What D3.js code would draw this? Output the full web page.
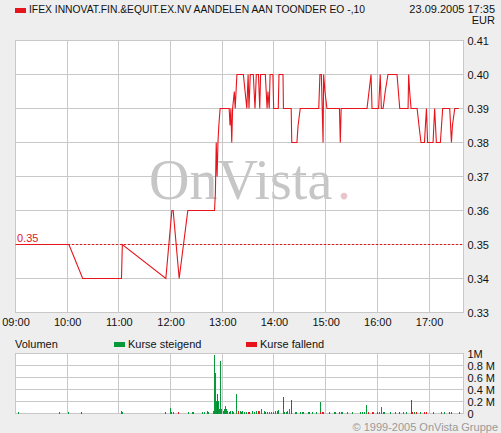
<!DOCTYPE html>
<html>
<head>
<meta charset="utf-8">
<script src="https://cdn.jsdelivr.net/npm/d3@7"></script>
<style>
  body { margin: 0; background: #eeeeee; }
  svg { display: block; font-family: "Liberation Sans", Arial, sans-serif; font-size: 11px; }
</style>
</head>
<body>
<div id="chart"></div>
<script>
// DATA ///////////////////////////////////////////////////////////////////////
const title = "IFEX INNOVAT.FIN.&EQUIT.EX.NV AANDELEN AAN TOONDER EO -,10";
const stamp = "23.09.2005 17:35";
const currency = "EUR";
const refPrice = 0.35;

const priceTicks = [0.33, 0.34, 0.35, 0.36, 0.37, 0.38, 0.39, 0.40, 0.41];
const volumeTicks = [0, 200000, 400000, 600000, 800000, 1000000];

// intraday price ticks
const priceTimes = [
  "09:00:00", "10:02:00", "10:18:00", "11:03:00", "11:04:00", "11:54:30", "12:01:30", "12:03:00", "12:10:00", "12:20:00",
  "12:51:00", "12:52:00", "12:53:00", "12:54:00", "12:55:00", "12:56:00", "12:57:30", "13:08:00", "13:09:00", "13:10:00",
  "13:11:00", "13:12:00", "13:14:00", "13:15:00", "13:17:00", "13:24:30", "13:26:30", "13:28:30", "13:30:00", "13:31:00",
  "13:32:30", "13:36:00", "13:37:00", "13:38:00", "13:39:30", "13:42:00", "13:43:30", "13:44:30", "13:50:00", "13:51:00",
  "13:52:00", "13:53:00", "13:54:30", "13:55:30", "13:58:45", "13:59:40", "14:05:00", "14:05:50", "14:10:30", "14:11:00",
  "14:20:00", "14:20:40", "14:26:40", "14:28:00", "14:30:30", "14:52:00", "14:52:40", "14:53:20", "14:55:00", "14:56:00",
  "14:57:00", "14:57:40", "14:59:10", "15:01:30", "15:16:00", "15:17:00", "15:18:00", "15:48:00", "15:50:20", "15:52:40",
  "15:53:50", "16:01:30", "16:03:20", "16:04:40", "16:06:40", "16:09:10", "16:12:20", "16:22:50", "16:26:00", "16:35:40",
  "16:36:20", "16:37:30", "16:39:10", "16:46:10", "16:48:20", "16:50:40", "16:54:40", "16:57:00", "16:58:20", "17:04:40",
  "17:06:30", "17:08:30", "17:13:10", "17:15:50", "17:24:00", "17:26:00", "17:27:10", "17:29:50", "17:34:30"
];
const priceValues = [
  0.35, 0.35, 0.34, 0.34, 0.35, 0.34, 0.36, 0.36, 0.34, 0.36,
  0.36, 0.365, 0.38, 0.37, 0.38, 0.385, 0.39, 0.39, 0.385, 0.39,
  0.38, 0.39, 0.395, 0.39, 0.40, 0.40, 0.395, 0.39, 0.40, 0.39,
  0.40, 0.40, 0.395, 0.39, 0.40, 0.40, 0.39, 0.40, 0.40, 0.395,
  0.39, 0.395, 0.39, 0.40, 0.40, 0.39, 0.39, 0.40, 0.40, 0.39,
  0.39, 0.38, 0.38, 0.385, 0.39, 0.39, 0.395, 0.40, 0.40, 0.39,
  0.38, 0.40, 0.395, 0.39, 0.39, 0.38, 0.39, 0.39, 0.395, 0.40,
  0.39, 0.39, 0.40, 0.39, 0.39, 0.395, 0.40, 0.40, 0.39, 0.39,
  0.40, 0.395, 0.39, 0.39, 0.385, 0.38, 0.38, 0.39, 0.38, 0.38,
  0.39, 0.38, 0.38, 0.39, 0.39, 0.38, 0.385, 0.39, 0.39
];

// traded volume per tick, 1 = kurse steigend, 0 = kurse fallend
const volTimes = [
  "09:03", "09:50", "10:01", "10:16", "11:03", "11:04", "11:54", "11:59", "12:00", "12:01",
  "12:03", "12:09", "12:20", "12:25", "12:26", "12:37", "12:39", "12:42", "12:44", "12:49",
  "12:50", "12:52", "12:53", "12:54", "12:55", "12:56", "12:57", "12:59", "13:01", "13:02",
  "13:03", "13:04", "13:06", "13:08", "13:09", "13:11", "13:13", "13:16", "13:18", "13:20",
  "13:22", "13:23", "13:25", "13:27", "13:30", "13:31", "13:34", "13:35", "13:37", "13:39",
  "13:41", "13:43", "13:45", "13:48", "13:50", "13:52", "13:54", "13:57", "13:59", "14:01",
  "14:03", "14:04", "14:05", "14:10", "14:11", "14:12", "14:14", "14:15", "14:17", "14:20",
  "14:24", "14:25", "14:30", "14:32", "14:34", "14:40", "14:41", "14:44", "14:49", "14:53",
  "14:54", "14:56", "14:57", "15:04", "15:10", "15:11", "15:16", "15:18", "15:19", "15:25",
  "15:30", "15:40", "15:42", "15:45", "15:47", "15:49", "15:54", "15:55", "16:00", "16:02",
  "16:04", "16:06", "16:08", "16:15", "16:21", "16:25", "16:30", "16:33", "16:39", "16:40",
  "16:43", "16:45", "16:50", "16:54", "16:56", "16:57", "17:05", "17:14", "17:17", "17:23",
  "17:26", "17:35"
];
const volShares = [
  30000, 30000, 30000, 30000, 35000, 20000, 25000, 100000, 30000, 25000,
  25000, 25000, 20000, 25000, 25000, 25000, 30000, 35000, 20000, 40000,
  970000, 680000, 210000, 320000, 210000, 70000, 870000, 80000, 50000, 70000,
  120000, 80000, 50000, 30000, 40000, 50000, 30000, 330000, 50000, 40000,
  20000, 50000, 20000, 20000, 30000, 30000, 50000, 20000, 30000, 40000,
  50000, 40000, 70000, 50000, 30000, 20000, 30000, 30000, 30000, 50000,
  30000, 50000, 60000, 270000, 70000, 20000, 30000, 50000, 70000, 230000,
  30000, 20000, 25000, 30000, 30000, 25000, 20000, 25000, 20000, 200000,
  25000, 25000, 25000, 20000, 20000, 25000, 20000, 20000, 25000, 20000,
  20000, 25000, 25000, 20000, 150000, 25000, 20000, 20000, 20000, 25000,
  110000, 20000, 20000, 20000, 20000, 25000, 20000, 25000, 220000, 20000,
  25000, 20000, 20000, 25000, 25000, 20000, 20000, 25000, 20000, 25000,
  20000, 20000
];
const volRising = [
  1, 1, 1, 0, 1, 1, 0, 1, 1, 1,
  1, 0, 1, 1, 1, 1, 1, 1, 1, 1,
  1, 1, 1, 0, 1, 1, 1, 1, 1, 1,
  1, 1, 1, 0, 1, 1, 1, 1, 0, 1,
  1, 1, 1, 1, 0, 0, 1, 1, 1, 1,
  0, 1, 1, 1, 0, 1, 1, 1, 1, 1,
  1, 1, 1, 0, 1, 1, 1, 1, 1, 0,
  1, 1, 1, 1, 1, 1, 1, 1, 1, 1,
  0, 0, 0, 1, 1, 1, 0, 1, 1, 1,
  1, 1, 1, 1, 1, 0, 0, 1, 0, 1,
  1, 1, 1, 1, 1, 0, 1, 1, 0, 0,
  1, 0, 1, 0, 0, 0, 1, 1, 1, 0,
  1, 1
];

// LAYOUT /////////////////////////////////////////////////////////////////////
const W = 501, H = 433;
const red = "#e8141b", green = "#07983a", gridColor = "#c8c8c8";

const parseT = d3.timeParse("%H:%M:%S");
const parseM = d3.timeParse("%H:%M");

const prices = priceTimes.map((t, i) => ({ t: parseT(t), v: priceValues[i] }));
const volumes = volTimes.map((t, i) => ({ t: parseM(t), v: volShares[i], up: volRising[i] === 1 }));

const x = d3.scaleTime()
  .domain([parseM("09:00"), parseM("17:40")])
  .range([15.5, 463.5]);
const y = d3.scaleLinear().domain([0.33, 0.41]).range([312.5, 40.5]);
const yv = d3.scaleLinear().domain([0, 1000000]).range([413.5, 353.5]);

const hours = d3.timeHour.range(parseM("09:00"), parseM("17:01"));

const svg = d3.select("#chart").append("svg")
  .attr("width", W)
  .attr("height", H);

svg.append("rect").attr("width", W).attr("height", H).attr("fill", "#eeeeee");

// header
svg.append("rect").attr("x", 15).attr("y", 8).attr("width", 11).attr("height", 5).attr("fill", red);
svg.append("text").attr("x", 29).attr("y", 13)
  .attr("textLength", 336).attr("lengthAdjust", "spacingAndGlyphs")
  .attr("fill", "#111").text(title);
svg.append("text").attr("x", 495).attr("y", 13).attr("text-anchor", "end").attr("fill", "#111").text(stamp);
svg.append("text").attr("x", 495).attr("y", 23.5).attr("text-anchor", "end").attr("fill", "#111").text(currency);

// PRICE PANEL ////////////////////////////////////////////////////////////////
const [px0, px1] = x.range();
const [py1, py0] = y.range();

svg.append("rect")
  .attr("x", px0).attr("y", py0)
  .attr("width", px1 - px0).attr("height", py1 - py0)
  .attr("fill", "#fff");

// watermark
const wm = svg.append("g")
  .attr("font-family", "'Liberation Serif', 'Times New Roman', serif")
  .attr("font-size", 56);
wm.append("text")
  .attr("x", 149).attr("y", 199)
  .attr("fill", "#c6c6c6")
  .text("OnVista");
wm.append("text")
  .attr("x", 337).attr("y", 199)
  .attr("fill", "#e9c4cc")
  .text(".");

const grid = svg.append("g")
  .attr("stroke", gridColor)
  .attr("shape-rendering", "crispEdges");

grid.selectAll(".vx").data(hours).enter().append("line")
  .attr("x1", d => x(d)).attr("x2", d => x(d))
  .attr("y1", py0).attr("y2", py1);
grid.selectAll(".hy").data(priceTicks).enter().append("line")
  .attr("x1", px0).attr("x2", px1)
  .attr("y1", d => y(d)).attr("y2", d => y(d));
grid.append("rect")
  .attr("x", px0).attr("y", py0)
  .attr("width", px1 - px0).attr("height", py1 - py0)
  .attr("fill", "none");

// reference line (previous close)
svg.append("line")
  .attr("x1", px0).attr("x2", px1)
  .attr("y1", y(refPrice)).attr("y2", y(refPrice))
  .attr("stroke", red)
  .attr("stroke-dasharray", "2,2")
  .attr("shape-rendering", "crispEdges");
svg.append("text")
  .attr("x", 17).attr("y", y(refPrice) - 3)
  .attr("fill", red)
  .text(d3.format(".2f")(refPrice));

// price line
const line = d3.line()
  .x(d => x(d.t))
  .y(d => y(d.v));

svg.append("path")
  .datum(prices)
  .attr("d", line)
  .attr("fill", "none")
  .attr("stroke", red)
  .attr("stroke-width", 1.1);

// axes
const xAxis = svg.append("g")
  .attr("transform", `translate(0,${py1})`)
  .call(d3.axisBottom(x).tickValues(hours).tickFormat(d3.timeFormat("%H:%M")).tickSize(0).tickPadding(6));

const yAxis = svg.append("g")
  .attr("transform", `translate(${px1},0)`)
  .call(d3.axisRight(y).tickValues(priceTicks).tickFormat(d3.format(".2f")).tickSize(0).tickPadding(4));

[xAxis, yAxis].forEach(a => {
  a.select(".domain").remove();
  a.selectAll("text").attr("fill", "#111").style("font-size", "11px").style("font-family", "'Liberation Sans', Arial, sans-serif");
});

// VOLUME PANEL ///////////////////////////////////////////////////////////////
svg.append("text").attr("x", 15).attr("y", 347.5).attr("fill", "#111").text("Volumen");
svg.append("rect").attr("x", 114).attr("y", 342).attr("width", 11).attr("height", 5).attr("fill", green);
svg.append("text").attr("x", 128).attr("y", 347.5).attr("fill", "#111").text("Kurse steigend");
svg.append("rect").attr("x", 246).attr("y", 342).attr("width", 11).attr("height", 5).attr("fill", red);
svg.append("text").attr("x", 260).attr("y", 347.5).attr("fill", "#111").text("Kurse fallend");

const [vy1, vy0] = yv.range();

svg.append("rect")
  .attr("x", px0).attr("y", vy0)
  .attr("width", px1 - px0).attr("height", vy1 - vy0)
  .attr("fill", "#fff");

const vgrid = svg.append("g")
  .attr("stroke", gridColor)
  .attr("shape-rendering", "crispEdges");
vgrid.selectAll(".vx").data(hours).enter().append("line")
  .attr("x1", d => x(d)).attr("x2", d => x(d))
  .attr("y1", vy0).attr("y2", vy1);
vgrid.selectAll(".hy").data(volumeTicks).enter().append("line")
  .attr("x1", px0).attr("x2", px1)
  .attr("y1", d => yv(d)).attr("y2", d => yv(d));
vgrid.append("rect")
  .attr("x", px0).attr("y", vy0)
  .attr("width", px1 - px0).attr("height", vy1 - vy0)
  .attr("fill", "none");

svg.append("g")
  .attr("shape-rendering", "crispEdges")
  .selectAll("rect")
  .data(volumes)
  .enter()
  .append("rect")
  .attr("x", d => Math.round(x(d.t)) - 0.5)
  .attr("width", 1.5)
  .attr("y", d => yv(d.v))
  .attr("height", d => yv(0) - yv(d.v))
  .attr("fill", d => d.up ? green : red);

const vAxis = svg.append("g")
  .attr("transform", `translate(${px1},0)`)
  .call(d3.axisRight(yv).tickValues(volumeTicks)
    .tickFormat(v => v === 0 ? "0" : v === 1000000 ? "1M" : (v / 1000000) + " M")
    .tickSize(0).tickPadding(4));
vAxis.select(".domain").remove();
vAxis.selectAll("text").attr("fill", "#111").style("font-size", "11px").style("font-family", "'Liberation Sans', Arial, sans-serif");

// footer
svg.append("text")
  .attr("x", 498).attr("y", 431)
  .attr("text-anchor", "end")
  .attr("fill", "#9a9a9a")
  .text("\u00a9 1999-2005 OnVista Gruppe");
</script>
</body>
</html>
